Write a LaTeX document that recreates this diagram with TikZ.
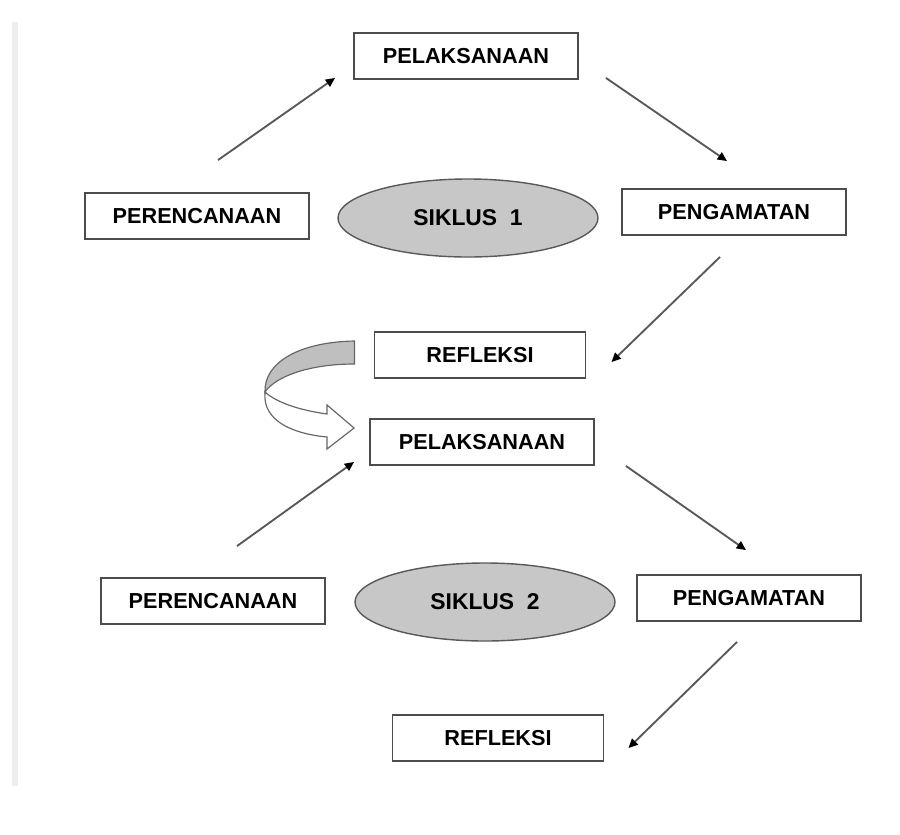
\documentclass[tikz,border=0pt]{standalone}
\usepackage{fontspec}
\setmainfont{Liberation Sans}
\usetikzlibrary{arrows.meta,shapes.geometric}

\begin{document}
\begin{tikzpicture}[x=0.03cm,y=-0.03cm,
  kotak/.style={draw=black!70,line width=1.6pt,fill=white,inner sep=0pt,
    minimum width=6.72cm,minimum height=1.38cm,
    font=\fontsize{18.5}{21}\selectfont\bfseries},
  kotakr/.style={kotak,minimum width=6.33cm},
  siklus/.style={ellipse,draw=black!65,line width=1.2pt,fill=black!22,inner sep=0pt,
    minimum width=7.8cm,minimum height=2.34cm,
    font=\fontsize{19.5}{22}\selectfont\bfseries},
  panah/.style={draw=black!65,line width=1.6pt,
    -{Triangle[length=0.28cm,width=0.25cm,fill=black,color=black]}}]
\useasboundingbox (0,0) rectangle (900,834);
% garis tepi kiri
\fill [black!7] (12,22) rectangle (18,786);
% siklus 1
\node [kotak] (pel1) at (466,56) {PELAKSANAAN};
\node [kotak] (per1) at (197,216) {PERENCANAAN};
\node [siklus] (sik1) at (468,218) {SIKLUS\ \ 1};
\node [kotak] (pen1) at (734,212) {PENGAMATAN};
\node [kotakr] (ref1) at (480,355) {REFLEKSI};
% siklus 2
\node [kotak] (pel2) at (482,442) {PELAKSANAAN};
\node [kotak] (per2) at (213,601) {PERENCANAAN};
\node [siklus] (sik2) at (485,602) {SIKLUS\ \ 2};
\node [kotak] (pen2) at (749,598) {PENGAMATAN};
\node [kotakr] (ref2) at (498,738) {REFLEKSI};
% panah siklus 1
\draw [panah] ([shift={(21,-32)}]per1.north) -- ([shift={(-18,-2)}]pel1.south west);
\draw [panah] ([shift={(27,-2)}]pel1.south east) -- ([shift={(-7,-27)}]pen1.north);
\draw [panah] ([shift={(-14,21)}]pen1.south) -- ([shift={(25,7)}]ref1.east);
% panah siklus 2
\draw [panah] ([shift={(24,-31)}]per2.north) -- ([shift={(-15,-4)}]pel2.south west);
\draw [panah] ([shift={(31,0)}]pel2.south east) -- ([shift={(-3,-24)}]pen2.north);
\draw [panah] ([shift={(-12,20)}]pen2.south) -- ([shift={(24,10)}]ref2.east);
% panah lengkung dari refleksi ke pelaksanaan
\filldraw [draw=black!60,line width=1pt,fill=black!25]
  ([shift={(-19,-14)}]ref1.west) .. controls (300,342) and (264,362) .. (265,392)
  .. controls (276,376) and (310,364) .. ([shift={(-19,9)}]ref1.west) -- cycle;
\filldraw [draw=black!60,line width=1pt,fill=white]
  (265,392) .. controls (262,422) and (295,434) .. (327,437)
  -- (327,449) -- ([shift={(-15,-14)}]pel2.west) -- (327,405) -- (327,414)
  .. controls (298,410) and (276,402) .. (265,392) -- cycle;
\end{tikzpicture}
\end{document}
